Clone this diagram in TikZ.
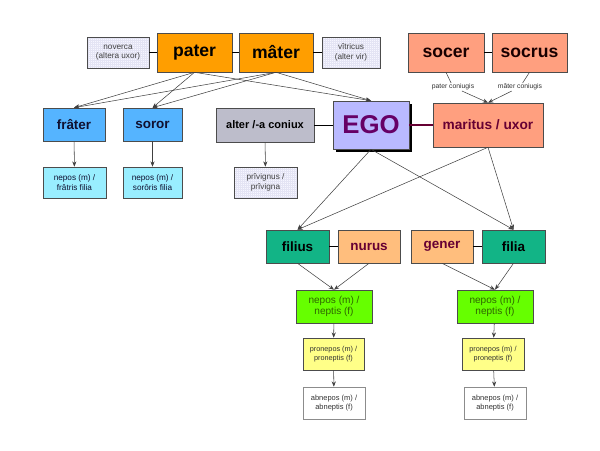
\documentclass[tikz,border=0pt]{standalone}
\usepackage{fontspec}
\setmainfont{Liberation Sans}
\definecolor{paleblue}{HTML}{F6F6FF}
\definecolor{gridblue}{HTML}{E4E4F4}
\definecolor{myorange}{HTML}{FF9E00}
\definecolor{mysalmon}{HTML}{FF9F7F}
\definecolor{myblue}{HTML}{55B4FF}
\definecolor{mycyan}{HTML}{99EEFF}
\definecolor{mygray}{HTML}{BDBDCB}
\definecolor{myviolet}{HTML}{B9B9FF}
\definecolor{myteal}{HTML}{12B486}
\definecolor{mypeach}{HTML}{FFBE7D}
\definecolor{mygreen}{HTML}{66FF00}
\definecolor{myyellow}{HTML}{FFFF88}
\definecolor{darkplum}{HTML}{660033}
\definecolor{egotext}{HTML}{660066}
\definecolor{darkgreen}{HTML}{2E6600}
\definecolor{darknavy}{HTML}{101030}
\usetikzlibrary{positioning, arrows.meta, shadows}
\tikzset{
	kinnode/.style={
			rectangle,
			draw=black!70,
			line width=0.5pt,
			inner sep=0pt,
			align=center
		},
	size/.style 2 args={
			minimum width=#1*0.03cm,
			minimum height=#2*0.03cm
		},
	stepnode/.style={
			kinnode,
			fill=paleblue,
			font=\fontsize{7}{8}\selectfont,
			text=black!75,
			path picture={
				\draw[gridblue, line width=0.2pt, step=0.06cm]
					(path picture bounding box.south west) grid (path picture bounding box.north east);
			}
		},
	parentnode/.style={
			kinnode,
			fill=myorange,
			font=\fontsize{15}{17}\selectfont\bfseries
		},
	inlawnode/.style={
			kinnode,
			fill=mysalmon,
			font=\fontsize{15}{17}\selectfont\bfseries,
			text=black!90!red
		},
	siblingnode/.style={
			kinnode,
			fill=myblue,
			font=\fontsize{11.5}{13}\selectfont\bfseries,
			text=darknavy
		},
	niecenode/.style={
			kinnode,
			fill=mycyan,
			font=\fontsize{7}{8.5}\selectfont,
			text=darknavy
		},
	childnode/.style={
			kinnode,
			fill=myteal,
			font=\fontsize{11.5}{13}\selectfont\bfseries,
			text=black
		},
	childinlaw/.style={
			kinnode,
			fill=mypeach,
			font=\fontsize{11.5}{13}\selectfont\bfseries,
			text=darkplum
		},
	grandnode/.style={
			kinnode,
			fill=mygreen,
			font=\fontsize{8.6}{10}\selectfont,
			text=darkgreen
		},
	greatnode/.style={
			kinnode,
			fill=myyellow,
			font=\fontsize{6.2}{8}\selectfont,
			text=black!80
		},
	greatgreatnode/.style={
			kinnode,
			draw=black!45,
			fill=white,
			font=\fontsize{6.4}{8}\selectfont,
			text=black!80
		},
	smalllabel/.style={
			inner sep=0.5pt,
			fill=white,
			font=\fontsize{5.8}{6}\selectfont,
			text=black!80
		},
	tie/.style={
			draw=black,
			line width=0.5pt
		},
	descent/.style={
			draw=black!75,
			line width=0.45pt,
			-{Stealth[length=4.5pt, width=3.5pt]}
		}
}
\begin{document}
\begin{tikzpicture}[x=0.03cm, y=-0.03cm]
\useasboundingbox (0,0) rectangle (600,450);

% parents and step-parents
\node[stepnode, size={62}{31}] (noverca) at (118,52.5) {noverca\\(altera uxor)};
\node[parentnode, size={75}{39}] (pater) at (194.5,52.5) {pater};
\node[parentnode, size={74}{39}] (mater) at (276,52.5) {mâter};
\node[stepnode, size={58}{31}] (vitricus) at (351,52.5) {vîtricus\\(alter vir)};

% parents-in-law
\node[inlawnode, size={76}{39}] (socer) at (446,52.5) {socer};
\node[inlawnode, size={75}{39}] (socrus) at (529.5,52.5) {socrus};
\node[smalllabel] (patcon) at (453,87) {pater coniugis};
\node[smalllabel] (matcon) at (520,87) {mâter coniugis};

% siblings, ego, spouse
\node[siblingnode, size={62}{33}] (frater) at (74,124.5) {frâter};
\node[siblingnode, size={59}{33}] (soror) at (152.5,124.5) {soror};
\node[kinnode, fill=mygray, size={98}{34}, font=\fontsize{9.4}{11}\selectfont\bfseries] (alter) at (265,125) {alter /-a coniux};
\node[kinnode, fill=myviolet, size={76}{48}, text=egotext,
      font=\fontsize{22}{24}\selectfont\bfseries,
      drop shadow={shadow xshift=0.09cm, shadow yshift=-0.09cm, opacity=1, fill=black}] (ego) at (371,125) {EGO};
\node[kinnode, fill=mysalmon, size={110}{44}, text=darkplum,
      font=\fontsize{11.7}{13}\selectfont\bfseries] (maritus) at (488,125) {maritus / uxor};

% nephews, nieces, stepchildren
\node[niecenode, size={63}{31}] (nepfr) at (74.5,182.5) {nepos (m) /\\frâtris filia};
\node[niecenode, size={59}{31}] (nepso) at (152.5,182.5) {nepos (m) /\\sorôris filia};
\node[stepnode, size={63}{31}] (privignus) at (265.5,182.5) {prîvignus /\\prîvigna};

% children and their spouses
\node[childnode, size={63}{33}] (filius) at (297.5,246.5) {filius};
\node[childinlaw, size={62}{33}] (nurus) at (369,246.5) {nurus};
\node[childinlaw, size={62}{33}] (gener) at (442,246.5) {gener};
\node[childnode, size={63}{33}] (filia) at (513.5,246.5) {filia};

% descendants
\node[grandnode, size={76}{33}] (nepa) at (334,306.5) {nepos (m) /\\neptis (f)};
\node[grandnode, size={76}{33}] (nepb) at (495,306.5) {nepos (m) /\\neptis (f)};
\node[greatnode, size={61}{32}] (pronepa) at (333.5,354) {pronepos (m) /\\proneptis (f)};
\node[greatnode, size={62}{32}] (pronepb) at (493,354) {pronepos (m) /\\proneptis (f)};
\node[greatgreatnode, size={62}{32}] (abnepa) at (334,403) {abnepos (m) /\\abneptis (f)};
\node[greatgreatnode, size={62}{32}] (abnepb) at (495,403) {abnepos (m) /\\abneptis (f)};

% marriages
\draw[tie] (noverca) -- (pater);
\draw[tie] (pater) -- (mater);
\draw[tie] (mater) -- (vitricus);
\draw[tie] (socer) -- (socrus);
\draw[tie] (alter) -- (ego);
\draw[draw=darkplum, line width=1.6pt] (ego) -- (maritus);
\draw[tie] (filius) -- (nurus);
\draw[tie] (gener) -- (filia);

% descent
\foreach \parent in {pater, mater} {
	\draw[descent] (\parent.south) -- (frater.north);
	\draw[descent] (\parent.south) -- (soror.north);
	\draw[descent] (\parent.south) -- (ego.north);
}
\draw[draw=black!75, line width=0.45pt] (socer.south) -- (patcon);
\draw[draw=black!75, line width=0.45pt] (socrus.south) -- (matcon);
\draw[descent] (patcon) -- (maritus.north);
\draw[descent] (matcon) -- (maritus.north);

\draw[descent] (frater) -- (nepfr);
\draw[descent] (soror) -- (nepso);
\draw[descent] (alter) -- (privignus);

\foreach \parent in {ego, maritus} {
	\draw[descent] (\parent.south) -- (filius.north);
	\draw[descent] (\parent.south) -- (filia.north);
}
\draw[descent] (filius.south) -- (nepa.north);
\draw[descent] (nurus.south) -- (nepa.north);
\draw[descent] (gener.south) -- (nepb.north);
\draw[descent] (filia.south) -- (nepb.north);

\draw[descent] (nepa) -- (pronepa);
\draw[descent] (pronepa) -- (abnepa);
\draw[descent] (nepb) -- (pronepb);
\draw[descent] (pronepb) -- (abnepb);

\end{tikzpicture}
\end{document}
